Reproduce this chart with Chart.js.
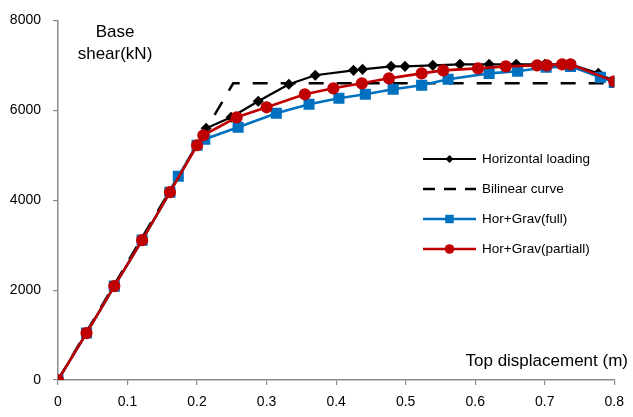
<!DOCTYPE html>
<html>
<head>
<meta charset="utf-8">
<script src="https://cdn.jsdelivr.net/npm/chart.js@4.4.0/dist/chart.umd.min.js"></script>
<style>
html,body{margin:0;padding:0;background:#fff;}
#wrap{position:relative;width:633px;height:417px;}
</style>
</head>
<body>
<div id="wrap"><canvas id="c" width="633" height="417"></canvas></div>
<script>
// ---- Data ----
const horX = [0, 0.041, 0.081, 0.121, 0.161, 0.2, 0.213, 0.249, 0.288, 0.332, 0.37, 0.425, 0.438, 0.479, 0.499, 0.539, 0.578, 0.62, 0.659, 0.7, 0.737, 0.777, 0.8];
const horY = [0, 1044, 2089, 3111, 4178, 5222, 5600, 5844, 6200, 6578, 6780, 6889, 6911, 6978, 6978, 7000, 7022, 7022, 7022, 7022, 7022, 6822, 6644];

const bilX = [0, 0.252, 0.8];
const bilY = [0, 6600, 6600];

const fullX = [0, 0.041, 0.081, 0.121, 0.161, 0.173, 0.2, 0.211, 0.259, 0.314, 0.361, 0.404, 0.442, 0.482, 0.523, 0.561, 0.62, 0.661, 0.702, 0.737, 0.78, 0.8];
const fullY = [0, 1044, 2089, 3111, 4178, 4533, 5222, 5356, 5622, 5933, 6133, 6267, 6356, 6467, 6556, 6689, 6822, 6867, 6956, 6978, 6733, 6622];

const partX = [0, 0.041, 0.081, 0.121, 0.161, 0.2, 0.209, 0.257, 0.3, 0.355, 0.396, 0.437, 0.476, 0.523, 0.554, 0.604, 0.644, 0.689, 0.703, 0.725, 0.737, 0.8];
const partY = [0, 1044, 2089, 3111, 4178, 5222, 5444, 5844, 6067, 6356, 6489, 6600, 6711, 6822, 6889, 6933, 6978, 7000, 7000, 7022, 7022, 6644];

const seriesNames = ["Horizontal loading", "Bilinear curve", "Hor+Grav(full)", "Hor+Grav(partiall)"];
const xTicks = [0, 0.1, 0.2, 0.3, 0.4, 0.5, 0.6, 0.7, 0.8];
const yTicks = [0, 2000, 4000, 6000, 8000];
const yTitleLines = ["Base", "shear(kN)"];
const xTitle = "Top displacement (m)";

const pts = (xs, ys) => xs.map((x, i) => ({x: x, y: ys[i]}));
const FONT = "'Liberation Sans', Arial, sans-serif";
const AXIS = "#8a8a8a";

const datasets = [
  {label: seriesNames[0], data: pts(horX, horY), borderColor: "#000", backgroundColor: "#000",
   borderWidth: 2.2, pointStyle: "rectRot", pointRadius: 4, order: 2},
  {label: seriesNames[1], data: pts(bilX, bilY), borderColor: "#000", backgroundColor: "#000",
   borderWidth: 2.5, borderDash: [15, 13], pointRadius: 0, order: 3},
  {label: seriesNames[2], data: pts(fullX, fullY), borderColor: "#0070C0", backgroundColor: "#0070C0",
   borderWidth: 2.6, pointStyle: "rect", pointRadius: 6, order: 1},
  {label: seriesNames[3], data: pts(partX, partY), borderColor: "#C00000", backgroundColor: "#C00000",
   borderWidth: 2.6, pointStyle: "circle", pointRadius: 4.8, order: 0}
];

const customLegend = {
  id: "customLegend",
  afterDraw(chart) {
    const ctx = chart.ctx;
    const a = chart.chartArea;
    const x0 = a.left + 365, x1 = x0 + 53, tx = x1 + 6;
    const ys = [159, 189, 219, 249];
    ctx.save();
    ctx.font = "13.5px " + FONT;
    ctx.textBaseline = "middle";
    ctx.fillStyle = "#000";
    chart.data.datasets.forEach((ds, i) => {
      const y = ys[i];
      ctx.save();
      ctx.strokeStyle = ds.borderColor;
      ctx.lineWidth = ds.borderWidth;
      if (ds.borderDash) ctx.setLineDash([12, 9]);
      ctx.beginPath(); ctx.moveTo(x0, y); ctx.lineTo(x1, y); ctx.stroke();
      ctx.restore();
      if (ds.pointRadius > 0) {
        ctx.fillStyle = ds.backgroundColor;
        Chart.helpers.drawPoint(ctx, {pointStyle: ds.pointStyle, radius: ds.pointRadius, borderWidth: 0, rotation: 0},
          (x0 + x1) / 2, y);
      }
      ctx.fillStyle = "#000";
      ctx.fillText(ds.label, tx, y);
    });
    // axis titles
    ctx.font = "17px " + FONT;
    ctx.textAlign = "center";
    ctx.textBaseline = "alphabetic";
    ctx.fillText(yTitleLines[0], 115, 37);
    ctx.fillText(yTitleLines[1], 115, 59);
    ctx.textAlign = "right";
    ctx.fillText(xTitle, 628, 366);
    ctx.restore();
  }
};

new Chart(document.getElementById("c"), {
  type: "line",
  data: {datasets: datasets},
  options: {
    responsive: false,
    animation: false,
    layout: {padding: {left: 0, right: 12, top: 20, bottom: 0}},
    plugins: {legend: {display: false}, tooltip: {enabled: false}},
    elements: {line: {tension: 0, fill: false}, point: {borderWidth: 0}},
    scales: {
      x: {
        type: "linear", min: 0, max: 0.8,
        afterBuildTicks: s => { s.ticks = xTicks.map(v => ({value: v})); },
        afterFit: s => { s.height = 37; },
        ticks: {color: "#000", font: {size: 14, family: FONT}, padding: 9,
                callback: v => String(v)},
        grid: {drawOnChartArea: false, tickLength: 5, color: AXIS, lineWidth: 1.2},
        border: {color: AXIS, width: 1.5}
      },
      y: {
        type: "linear", min: 0, max: 8000,
        afterBuildTicks: s => { s.ticks = yTicks.map(v => ({value: v})); },
        afterFit: s => { s.width = 58; },
        ticks: {color: "#000", font: {size: 14, family: FONT}, padding: 12,
                callback: v => String(v)},
        grid: {drawOnChartArea: false, tickLength: 5, color: AXIS, lineWidth: 1.2},
        border: {color: AXIS, width: 1.5}
      }
    }
  },
  plugins: [customLegend]
});
</script>
</body>
</html>
